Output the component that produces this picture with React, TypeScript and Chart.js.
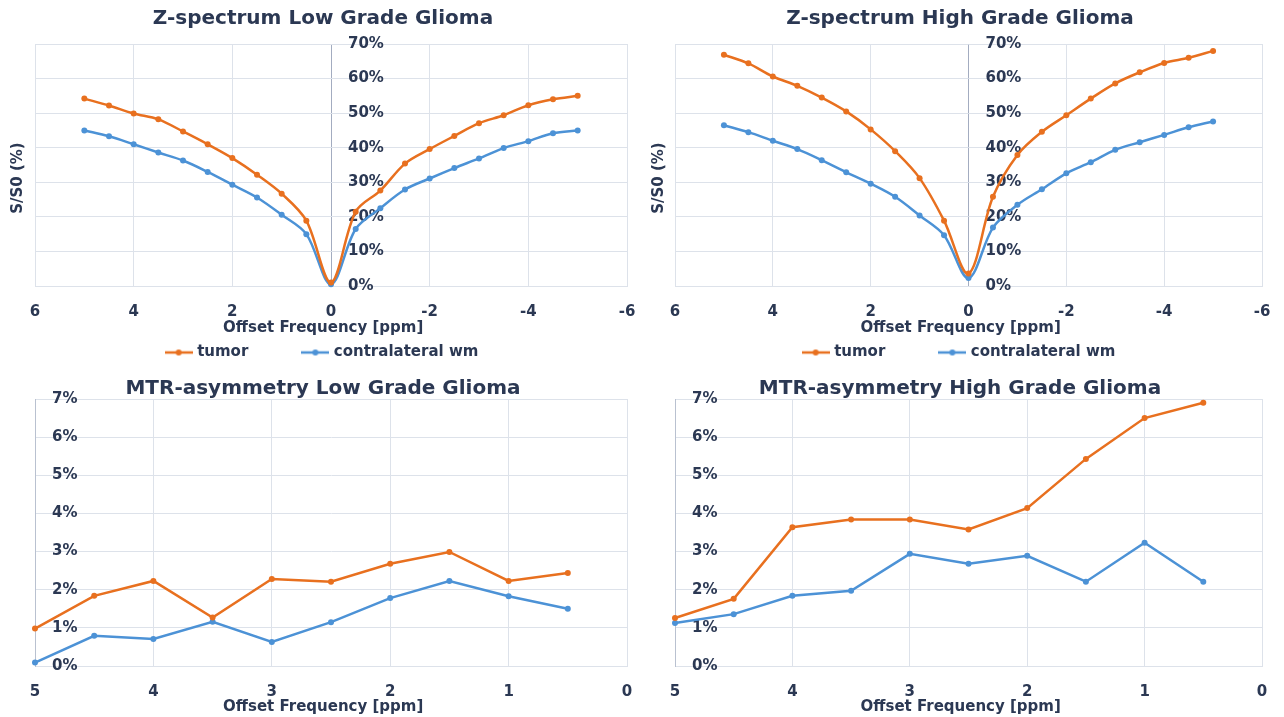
import { useEffect, useRef } from 'react';
import { Chart, registerables } from 'chart.js';

Chart.register(...registerables);

// ---- Data ----
const zOffsets = [5, 4.5, 4, 3.5, 3, 2.5, 2, 1.5, 1, 0.5, 0, -0.5, -1, -1.5, -2, -2.5, -3, -3.5, -4, -4.5, -5];
const zLowTumor = [54.2, 52.2, 49.9, 48.2, 44.7, 41.0, 37.0, 32.2, 26.7, 18.9, 1.0, 21.5, 27.6, 35.4, 39.6, 43.4, 47.1, 49.4, 52.3, 54.0, 55.0];
const zLowWm = [45.0, 43.3, 41.0, 38.6, 36.3, 33.0, 29.3, 25.6, 20.6, 15.0, 0.5, 16.5, 22.5, 27.9, 31.1, 34.1, 36.9, 39.9, 41.9, 44.2, 45.0];
const zHighTumor = [66.9, 64.4, 60.6, 57.9, 54.5, 50.5, 45.3, 39.0, 31.2, 18.9, 3.6, 25.8, 37.9, 44.6, 49.4, 54.2, 58.6, 61.8, 64.5, 66.0, 68.0];
const zHighWm = [46.5, 44.5, 42.0, 39.6, 36.4, 32.9, 29.6, 25.8, 20.4, 14.7, 2.3, 16.9, 23.5, 28.0, 32.6, 35.8, 39.4, 41.6, 43.7, 45.9, 47.6];

const mtrOffsets = [5, 4.5, 4, 3.5, 3, 2.5, 2, 1.5, 1, 0.5];
const mtrLowTumor = [0.98, 1.84, 2.23, 1.27, 2.28, 2.21, 2.68, 2.99, 2.23, 2.44];
const mtrLowWm = [0.09, 0.79, 0.71, 1.16, 0.63, 1.15, 1.78, 2.23, 1.83, 1.50];
const mtrHighTumor = [1.26, 1.76, 3.64, 3.84, 3.84, 3.58, 4.14, 5.43, 6.50, 6.90];
const mtrHighWm = [1.13, 1.36, 1.84, 1.97, 2.94, 2.68, 2.89, 2.21, 3.23, 2.21];

const seriesNames = ['tumor', 'contralateral wm'];
const titles = [
  'Z-spectrum Low Grade Glioma',
  'Z-spectrum High Grade Glioma',
  'MTR-asymmetry Low Grade Glioma',
  'MTR-asymmetry High Grade Glioma',
];
const xAxisTitle = 'Offset Frequency [ppm]';
const yAxisTitle = 'S/S0 (%)';

// ---- Styles ----
const ORANGE = '#E8701F';
const BLUE = '#4C92D6';
const TEXT = '#2B3853';
const GRID = '#DDE2EA';
const AXIS = '#A3ACC0';
const FONT = "'DejaVu Sans', sans-serif";

function makeMarker(color: string) {
  const c = document.createElement('canvas');
  c.width = 28;
  c.height = 10;
  const g = c.getContext('2d')!;
  g.strokeStyle = color;
  g.lineWidth = 2.5;
  g.beginPath();
  g.moveTo(0, 5);
  g.lineTo(28, 5);
  g.stroke();
  g.fillStyle = color;
  g.beginPath();
  g.arc(14, 5, 3, 0, Math.PI * 2);
  g.fill();
  return c;
}

type Spec = {
  kind: 'z' | 'mtr';
  title: string;
  xs: number[];
  tumor: number[];
  wm: number[];
  padL: number;
  padR: number;
  yTitleX: number;
};

function buildConfig(spec: Spec): any {
  const isZ = spec.kind === 'z';
  const toPts = (vals: number[]) => vals.map((v, i) => ({ x: spec.xs[i], y: v }));
  const markers = [makeMarker(ORANGE), makeMarker(BLUE)];
  const ds = (label: string, color: string, vals: number[]) => ({
    label,
    data: toPts(vals),
    borderColor: color,
    backgroundColor: color,
    borderWidth: 2.5,
    pointRadius: 3,
    pointHoverRadius: 3,
    pointBorderWidth: 0,
    pointBackgroundColor: color,
    tension: isZ ? 0.33 : 0,
    clip: 8,
  });
  return {
    type: 'line',
    data: {
      datasets: [ds(seriesNames[0], ORANGE, spec.tumor), ds(seriesNames[1], BLUE, spec.wm)],
    },
    options: {
      animation: false,
      responsive: false,
      maintainAspectRatio: false,
      events: [],
      layout: { padding: { left: spec.padL, right: spec.padR, top: 0, bottom: 0 } },
      plugins: {
        tooltip: { enabled: false },
        title: {
          display: true,
          text: spec.title,
          color: TEXT,
          font: { family: FONT, size: 20, weight: 'bold', lineHeight: isZ ? 1.2 : 1.0 },
          padding: isZ ? { top: 7, bottom: 13 } : { top: 9, bottom: 0 },
        },
        legend: {
          display: isZ,
          position: 'bottom',
          labels: {
            usePointStyle: true,
            pointStyleWidth: 22,
            padding: 9,
            color: TEXT,
            font: { family: FONT, size: 15, weight: 'bold' },
            generateLabels: (chart: any) =>
              chart.data.datasets.map((d: any, i: number) => ({
                text: i === 0 ? d.label + '         ' : d.label,
                fillStyle: d.borderColor,
                strokeStyle: d.borderColor,
                lineWidth: 0,
                pointStyle: markers[i],
                fontColor: TEXT,
                hidden: false,
                datasetIndex: i,
              })),
          },
        },
      },
      scales: {
        x: {
          type: 'linear',
          min: isZ ? -6 : 0,
          max: isZ ? 6 : 5,
          reverse: true,
          afterFit: (s: any) => {
            s.height = isZ ? 50 : 51;
            s.paddingLeft = 0;
            s.paddingRight = 0;
          },
          ticks: {
            stepSize: isZ ? 2 : 1,
            autoSkip: false,
            maxRotation: 0,
            padding: 17,
            color: TEXT,
            font: { family: FONT, size: 15, weight: 'bold' },
            callback: (v: any) => String(v),
          },
          grid: {
            drawTicks: false,
            lineWidth: 1,
            color: (ctx: any) => (isZ && ctx.tick && ctx.tick.value === 0 ? AXIS : GRID),
          },
          border: { display: true, color: GRID },
          title: {
            display: true,
            text: xAxisTitle + '   ',
            color: TEXT,
            font: { family: FONT, size: 15, weight: 'bold' },
            padding: { top: 0, bottom: isZ ? -1 : 1 },
          },
        },
        y: {
          type: 'linear',
          position: 'left',
          min: 0,
          max: isZ ? 70 : 7,
          afterFit: (s: any) => {
            s.width = 35 - spec.padL;
            s.paddingTop = 9;
            s.paddingBottom = 9;
          },
          ticks: {
            stepSize: isZ ? 10 : 1,
            mirror: true,
            padding: 17,
            color: TEXT,
            font: { family: FONT, size: 15, weight: 'bold' },
            callback: (v: any) => v + '%',
          },
          grid: { drawTicks: false, color: GRID, lineWidth: 1 },
          border: { display: !isZ, color: '#B9C1D0' },
          title: {
            display: isZ,
            text: yAxisTitle + '     ',
            color: TEXT,
            font: { family: FONT, size: 15, weight: 'bold' },
            padding: { top: spec.yTitleX - spec.padL - 9, bottom: 0 },
          },
        },
      },
    },
  };
}

function ChartBox(props: { spec: Spec; left: number; top: number; width: number; height: number }) {
  const ref = useRef<HTMLCanvasElement | null>(null);
  const { spec, left, top, width, height } = props;
  useEffect(() => {
    if (!ref.current) return;
    const chart = new Chart(ref.current, buildConfig(spec));
    if (spec.kind === 'z') {
      const xs: any = chart.scales.x;
      const opts: any = chart.options.scales!.y;
      opts.ticks.padding = xs.getPixelForValue(0) - chart.chartArea.left + 17;
      chart.update();
    }
    return () => chart.destroy();
  }, []);
  return (
    <canvas
      ref={ref}
      width={width}
      height={height}
      style={{ position: 'absolute', left, top, width, height }}
    />
  );
}

export default function App() {
  const specs: Spec[] = [
    { kind: 'z', title: titles[0], xs: zOffsets, tumor: zLowTumor, wm: zLowWm, padL: 19, padR: 13, yTitleX: 18 },
    { kind: 'z', title: titles[1], xs: zOffsets, tumor: zHighTumor, wm: zHighWm, padL: 18, padR: 22, yTitleX: 19.6 },
    { kind: 'mtr', title: titles[2], xs: mtrOffsets, tumor: mtrLowTumor, wm: mtrLowWm, padL: 19, padR: 13, yTitleX: 18 },
    { kind: 'mtr', title: titles[3], xs: mtrOffsets, tumor: mtrHighTumor, wm: mtrHighWm, padL: 18, padR: 22, yTitleX: 19.6 },
  ];
  return (
    <div style={{ position: 'absolute', left: 0, top: 0, width: 1284, height: 717, background: '#ffffff', overflow: 'hidden' }}>
      <ChartBox spec={specs[0]} left={0} top={0} width={640} height={370} />
      <ChartBox spec={specs[1]} left={640} top={0} width={644} height={370} />
      <ChartBox spec={specs[2]} left={0} top={370} width={640} height={347} />
      <ChartBox spec={specs[3]} left={640} top={370} width={644} height={347} />
    </div>
  );
}
